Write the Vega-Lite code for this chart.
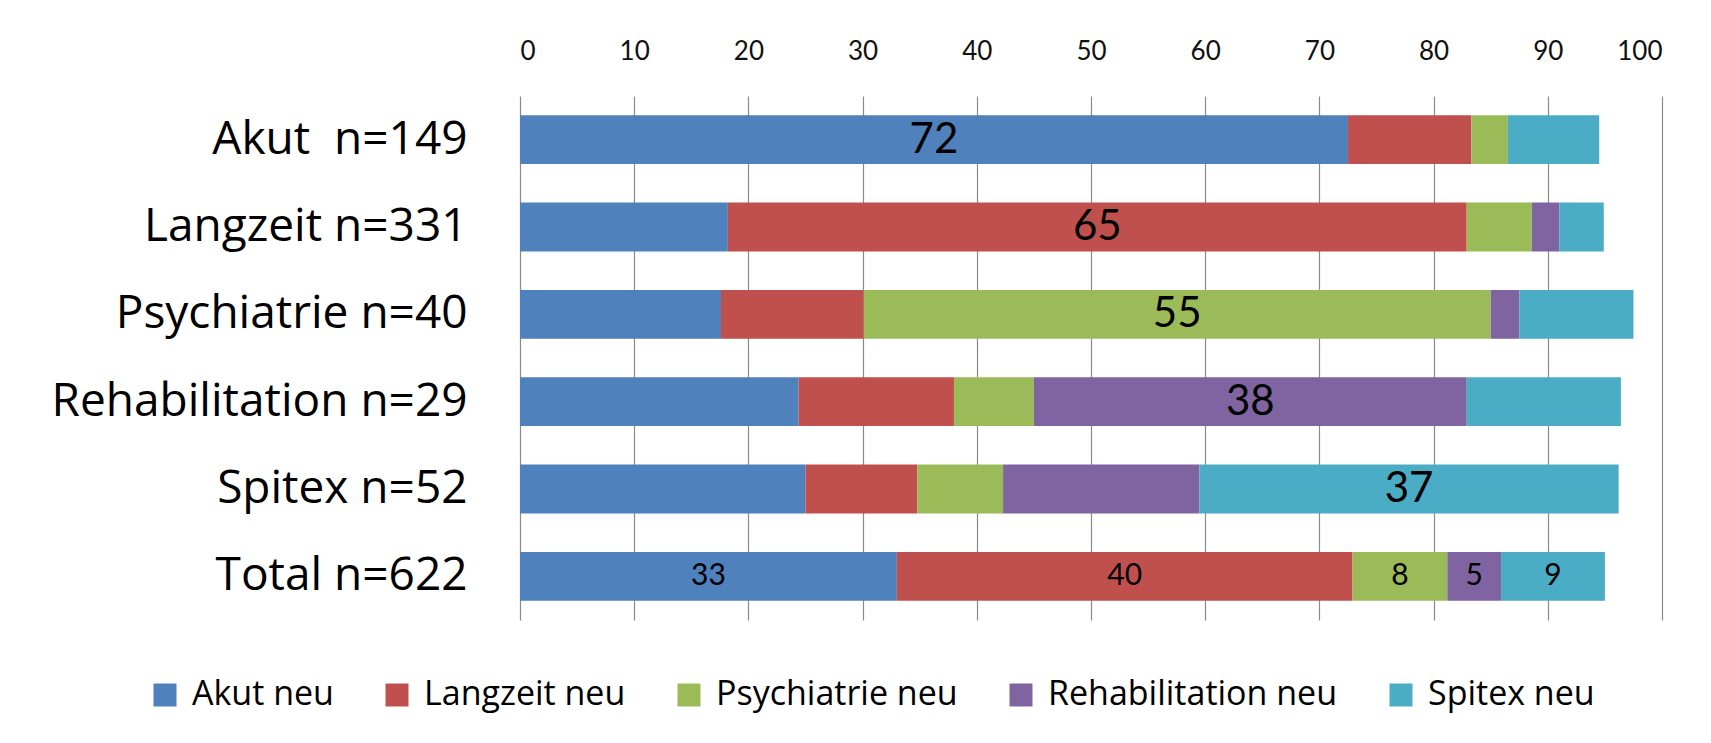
{
  "$schema": "https://vega.github.io/schema/vega-lite/v6.json",
  "width": 1142,
  "height": 524,
  "autosize": {"type": "none"},
  "padding": {"left": 520, "top": 96, "right": 49, "bottom": 123},
  "background": "white",
  "config": {"view": {"stroke": null}, "font": "Open Sans"},
  "data": {"values": [
    {"group": "Akut  n=149", "category": "Akut neu", "value": 72.5, "label": "72"},
    {"group": "Akut  n=149", "category": "Langzeit neu", "value": 10.8, "label": ""},
    {"group": "Akut  n=149", "category": "Psychiatrie neu", "value": 3.2, "label": ""},
    {"group": "Akut  n=149", "category": "Rehabilitation neu", "value": 0, "label": ""},
    {"group": "Akut  n=149", "category": "Spitex neu", "value": 8.0, "label": ""},
    {"group": "Langzeit n=331", "category": "Akut neu", "value": 18.2, "label": ""},
    {"group": "Langzeit n=331", "category": "Langzeit neu", "value": 64.7, "label": "65"},
    {"group": "Langzeit n=331", "category": "Psychiatrie neu", "value": 5.7, "label": ""},
    {"group": "Langzeit n=331", "category": "Rehabilitation neu", "value": 2.4, "label": ""},
    {"group": "Langzeit n=331", "category": "Spitex neu", "value": 3.9, "label": ""},
    {"group": "Psychiatrie n=40", "category": "Akut neu", "value": 17.6, "label": ""},
    {"group": "Psychiatrie n=40", "category": "Langzeit neu", "value": 12.5, "label": ""},
    {"group": "Psychiatrie n=40", "category": "Psychiatrie neu", "value": 54.9, "label": "55"},
    {"group": "Psychiatrie n=40", "category": "Rehabilitation neu", "value": 2.5, "label": ""},
    {"group": "Psychiatrie n=40", "category": "Spitex neu", "value": 10.0, "label": ""},
    {"group": "Rehabilitation n=29", "category": "Akut neu", "value": 24.4, "label": ""},
    {"group": "Rehabilitation n=29", "category": "Langzeit neu", "value": 13.6, "label": ""},
    {"group": "Rehabilitation n=29", "category": "Psychiatrie neu", "value": 7.0, "label": ""},
    {"group": "Rehabilitation n=29", "category": "Rehabilitation neu", "value": 37.9, "label": "38"},
    {"group": "Rehabilitation n=29", "category": "Spitex neu", "value": 13.5, "label": ""},
    {"group": "Spitex n=52", "category": "Akut neu", "value": 25.0, "label": ""},
    {"group": "Spitex n=52", "category": "Langzeit neu", "value": 9.8, "label": ""},
    {"group": "Spitex n=52", "category": "Psychiatrie neu", "value": 7.5, "label": ""},
    {"group": "Spitex n=52", "category": "Rehabilitation neu", "value": 17.2, "label": ""},
    {"group": "Spitex n=52", "category": "Spitex neu", "value": 36.7, "label": "37"},
    {"group": "Total n=622", "category": "Akut neu", "value": 33.0, "label": "33"},
    {"group": "Total n=622", "category": "Langzeit neu", "value": 39.9, "label": "40"},
    {"group": "Total n=622", "category": "Psychiatrie neu", "value": 8.3, "label": "8"},
    {"group": "Total n=622", "category": "Rehabilitation neu", "value": 4.7, "label": "5"},
    {"group": "Total n=622", "category": "Spitex neu", "value": 9.1, "label": "9"}
  ]},
  "transform": [
    {"stack": "value", "groupby": ["group"], "sort": [{"field": "category", "order": "ascending"}], "as": ["x0", "x1"]},
    {"calculate": "(datum.x0 + datum.x1) / 2", "as": "xmid"}
  ],
  "encoding": {
    "y": {
      "field": "group", "type": "nominal", "sort": null,
      "scale": {"paddingInner": 0.44, "paddingOuter": 0.22},
      "axis": {"title": null, "domain": false, "ticks": false, "labelFontSize": 46, "labelColor": "#000000", "labelPadding": 53, "labelLimit": 600, "labelFont": "Open Sans", "labelExpr": "replace(datum.label, '  ', ' \u00a0')"}
    }
  },
  "layer": [
    {
      "mark": {"type": "bar"},
      "encoding": {
        "x": {
          "field": "x0", "type": "quantitative",
          "scale": {"domain": [0, 100], "nice": false},
          "axis": {"orient": "top", "title": null, "values": [0, 10, 20, 30, 40, 50, 60, 70, 80, 90, 100], "domain": false, "ticks": false, "tickSize": 0, "labelPadding": 32, "labelFontSize": 26, "labelColor": "#111111", "grid": true, "gridColor": "#8a8a8a", "gridWidth": 1.2, "labelFont": "Lato"}
        },
        "x2": {"field": "x1"},
        "color": {
          "field": "category", "type": "nominal",
          "scale": {"domain": ["Akut neu", "Langzeit neu", "Psychiatrie neu", "Rehabilitation neu", "Spitex neu"], "range": ["#4F81BD", "#C0504D", "#9BBB59", "#8064A2", "#4BACC6"]},
          "legend": {"title": null, "orient": "none", "legendX": -372, "legendY": 582, "direction": "horizontal", "symbolType": "square", "symbolSize": 529, "symbolStrokeWidth": 0, "symbolOpacity": 1, "labelFontSize": 34, "labelColor": "#000000", "labelOffset": 10, "columnPadding": 46, "labelFont": "Open Sans", "labelLimit": 400}
        }
      }
    },
    {
      "transform": [{"filter": "datum.group !== 'Total n=622'"}],
      "mark": {"type": "text", "fontSize": 42, "color": "#000000", "align": "center", "baseline": "middle", "font": "Lato"},
      "encoding": {
        "x": {"field": "xmid", "type": "quantitative"},
        "text": {"field": "label"}
      }
    },
    {
      "transform": [{"filter": "datum.group === 'Total n=622'"}],
      "mark": {"type": "text", "fontSize": 30, "color": "#000000", "align": "center", "baseline": "middle", "font": "Lato"},
      "encoding": {
        "x": {"field": "xmid", "type": "quantitative"},
        "text": {"field": "label"}
      }
    }
  ]
}
